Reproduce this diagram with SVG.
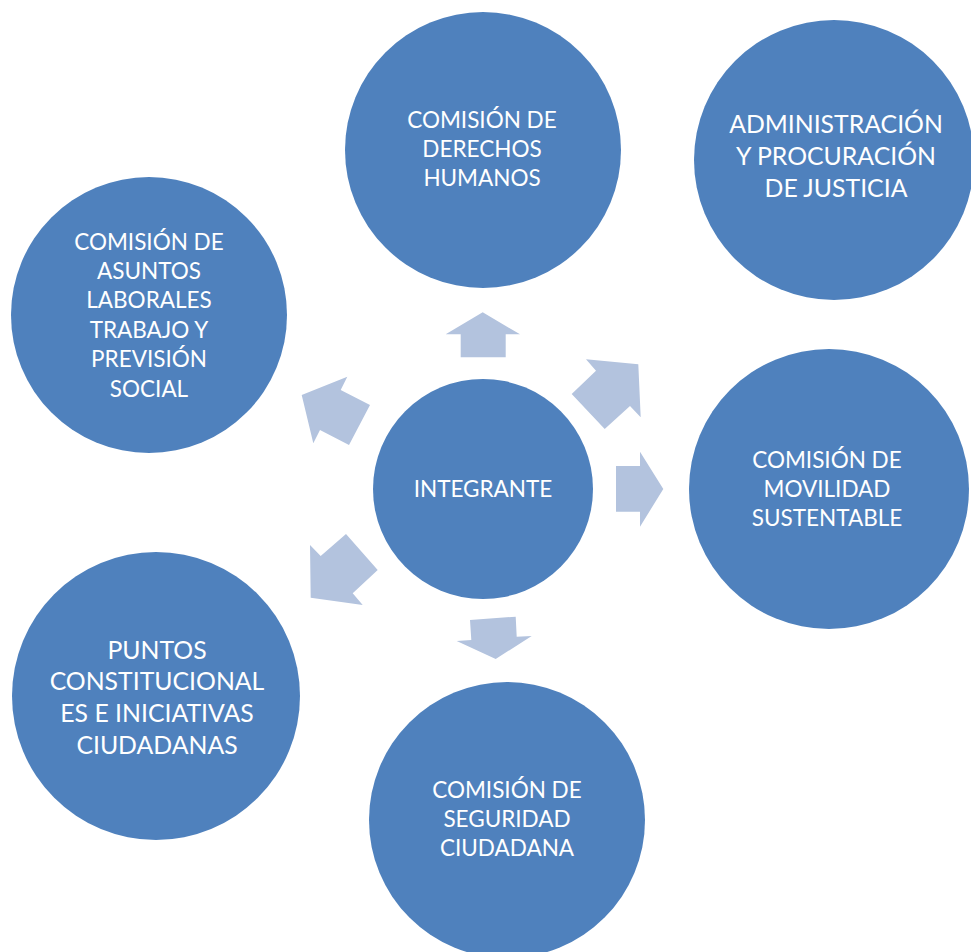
<svg xmlns="http://www.w3.org/2000/svg" width="971" height="952" viewBox="0 0 971 952">
<style>
.node{fill:#4F81BD}
.arr{fill:#B3C3DE}
.t{fill:#FFFFFF;font-family:Lato,"Open Sans","Liberation Sans",sans-serif;text-anchor:middle}
.s22{font-size:22.5px}
.s24{font-size:24.8px}
</style>
<rect width="971" height="952" fill="#FFFFFF"/>
<g id="connectors">
<polygon class="arr" points="482.7,312.3 520,334.3 505.7,334.3 505.7,357.3 460.7,357.3 460.7,334.3 445.7,334.3"/>
<polygon class="arr" points="586,359.3 638.3,364.3 640.7,417.3 630,406 604.7,429 571.7,394 596,370.7"/>
<polygon class="arr" points="616,466 640,466 640,451.7 663.3,489 640,526.7 640,511.7 616,511.7"/>
<polygon class="arr" points="470,620 515.7,616.7 516.7,636.7 531.7,636 495.7,659 456.7,641 471.3,640"/>
<polygon class="arr" points="346,534 377.7,570 352.7,593.3 362.7,605 310.7,597.7 310,545 320.7,556"/>
<polygon class="arr" points="301.7,395 347.3,376.7 340.7,390 370,405 349,445 320,430 313.3,443.3"/>
</g>
<g id="n-integrante">
<circle class="node" cx="483" cy="489" r="110"/>
<text class="t s22" x="483" y="497">INTEGRANTE</text>
</g>
<g id="n-derechos">
<circle class="node" cx="483" cy="150" r="138"/>
<text class="t s22" x="482" y="128">COMISIÓN DE</text>
<text class="t s22" x="482" y="157">DERECHOS</text>
<text class="t s22" x="482" y="186">HUMANOS</text>
</g>
<g id="n-administracion">
<circle class="node" cx="834" cy="160" r="140"/>
<text class="t s24" x="836" y="133">ADMINISTRACIÓN</text>
<text class="t s24" x="836" y="165">Y PROCURACIÓN</text>
<text class="t s24" x="836" y="197">DE JUSTICIA</text>
</g>
<g id="n-laborales">
<circle class="node" cx="149" cy="315" r="138"/>
<text class="t s22" x="149" y="250">COMISIÓN DE</text>
<text class="t s22" x="149" y="279">ASUNTOS</text>
<text class="t s22" x="149" y="308">LABORALES</text>
<text class="t s22" x="149" y="338">TRABAJO Y</text>
<text class="t s22" x="149" y="367">PREVISIÓN</text>
<text class="t s22" x="149" y="397">SOCIAL</text>
</g>
<g id="n-movilidad">
<circle class="node" cx="829" cy="489" r="140"/>
<text class="t s22" x="827" y="468">COMISIÓN DE</text>
<text class="t s22" x="827" y="497">MOVILIDAD</text>
<text class="t s22" x="827" y="526">SUSTENTABLE</text>
</g>
<g id="n-puntos">
<circle class="node" cx="156" cy="696" r="144"/>
<text class="t s24" x="157" y="659">PUNTOS</text>
<text class="t s24" x="157" y="690">CONSTITUCIONAL</text>
<text class="t s24" x="157" y="722">ES E INICIATIVAS</text>
<text class="t s24" x="157" y="754">CIUDADANAS</text>
</g>
<g id="n-seguridad">
<circle class="node" cx="507" cy="820" r="138"/>
<text class="t s22" x="507" y="798">COMISIÓN DE</text>
<text class="t s22" x="507" y="827">SEGURIDAD</text>
<text class="t s22" x="507" y="856">CIUDADANA</text>
</g>
</svg>
